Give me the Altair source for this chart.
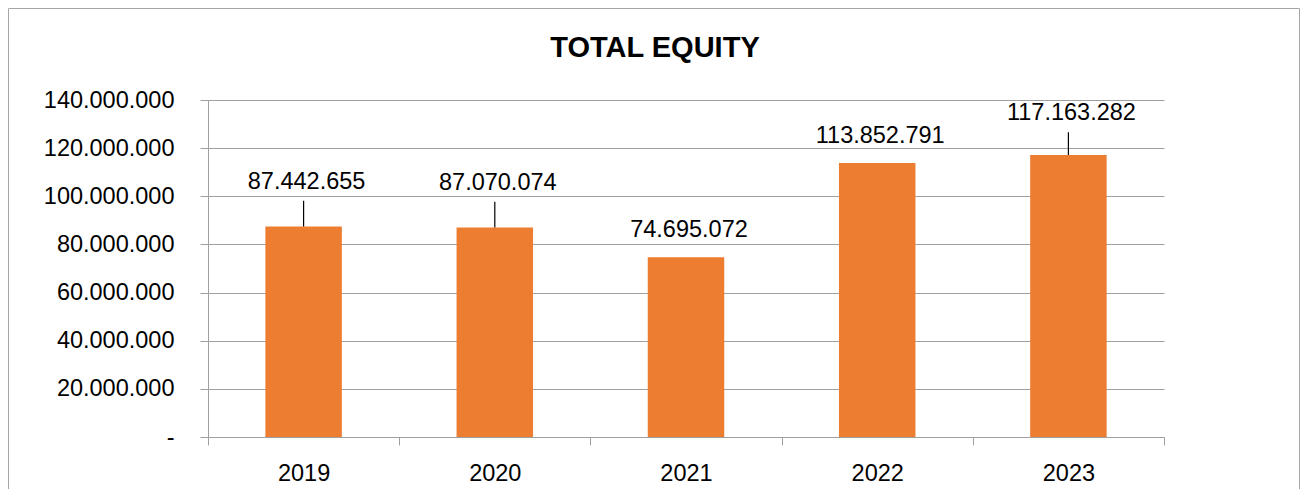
import altair as alt
import pandas as pd

# ---- data ----
years = ["2019", "2020", "2021", "2022", "2023"]
equity = [87442655, 87070074, 74695072, 113852791, 117163282]
# where each value label sits (in data units), and whether it has a leader line
label_at = [105.9e6, 105.5e6, 85.8e6, 125.0e6, 134.4e6]
has_leader = [1, 1, 0, 0, 1]
y_ticks = [0, 20000000, 40000000, 60000000, 80000000, 100000000, 120000000, 140000000]
title_text = "TOTAL EQUITY"

FONT = "Liberation Sans"
GRID = "#a0a0a0"
BAR = "#ED7D31"

df = pd.DataFrame({
    "year": years,
    "equity": equity,
    "label_at": label_at,
    "leader": has_leader,
    "label": [f"{v:,}".replace(",", ".") for v in equity],
})

x_enc = alt.X(
    "year:N",
    sort=years,
    scale=alt.Scale(paddingInner=0, paddingOuter=0),
    axis=alt.Axis(
        title=None, labelAngle=0, tickBand="extent", tickSize=8,
        tickColor=GRID, domainColor=GRID, labelFont=FONT, labelFontSize=23.5,
        labelColor="black", labelPadding=16, grid=False,
    ),
)

y_scale = alt.Scale(domain=[0, 140000000], nice=False)

bars = alt.Chart(df).mark_bar(color=BAR, width=alt.RelativeBandSize(0.4)).encode(
    x=x_enc,
    y=alt.Y(
        "equity:Q",
        scale=y_scale,
        axis=alt.Axis(
            title=None, values=y_ticks, grid=True, gridColor=GRID, gridWidth=1,
            tickSize=8, tickColor=GRID, domainColor=GRID,
            labelFont=FONT, labelFontSize=23.5, labelColor="black", labelPadding=26,
            labelExpr="datum.value == 0 ? '-\u00a0\u00a0' : replace(replace(format(datum.value, ','), ',', '.'), ',', '.')",
        ),
    ),
)

leaders = alt.Chart(df).transform_filter("datum.leader == 1").transform_calculate(
    top="datum.label_at - 7800000"
).mark_rule(color="black", strokeWidth=1.2).encode(
    x=alt.X("year:N", sort=years),
    y=alt.Y("equity:Q", scale=y_scale),
    y2="top:Q",
)

labels = alt.Chart(df).mark_text(
    font=FONT, fontSize=23.5, color="black", baseline="middle", align="center", dx=3
).encode(
    x=alt.X("year:N", sort=years),
    y=alt.Y("label_at:Q", scale=y_scale),
    text="label:N",
)

tdf = pd.DataFrame({"t": [title_text]})
title = alt.Chart(tdf).mark_text(
    font=FONT, fontSize=29, fontWeight="bold", color="black", baseline="middle", align="center"
).encode(x=alt.value(447), y=alt.value(-52), text="t:N")

frame = alt.Chart(tdf).mark_rect(filled=False, stroke="#a6a6a6", strokeWidth=1).encode(
    x=alt.value(-199.5), x2=alt.value(1091.5), y=alt.value(-91.5), y2=alt.value(450)
)

chart = alt.layer(frame, bars, leaders, labels, title).properties(
    width=956,
    height=337,
    autosize=alt.AutoSizeParams(type="none"),
    padding={"left": 200, "top": 92, "right": 136, "bottom": 52},
).configure_view(stroke=None)

chart.save("out.html", embed_options={"renderer": "svg", "actions": False})
